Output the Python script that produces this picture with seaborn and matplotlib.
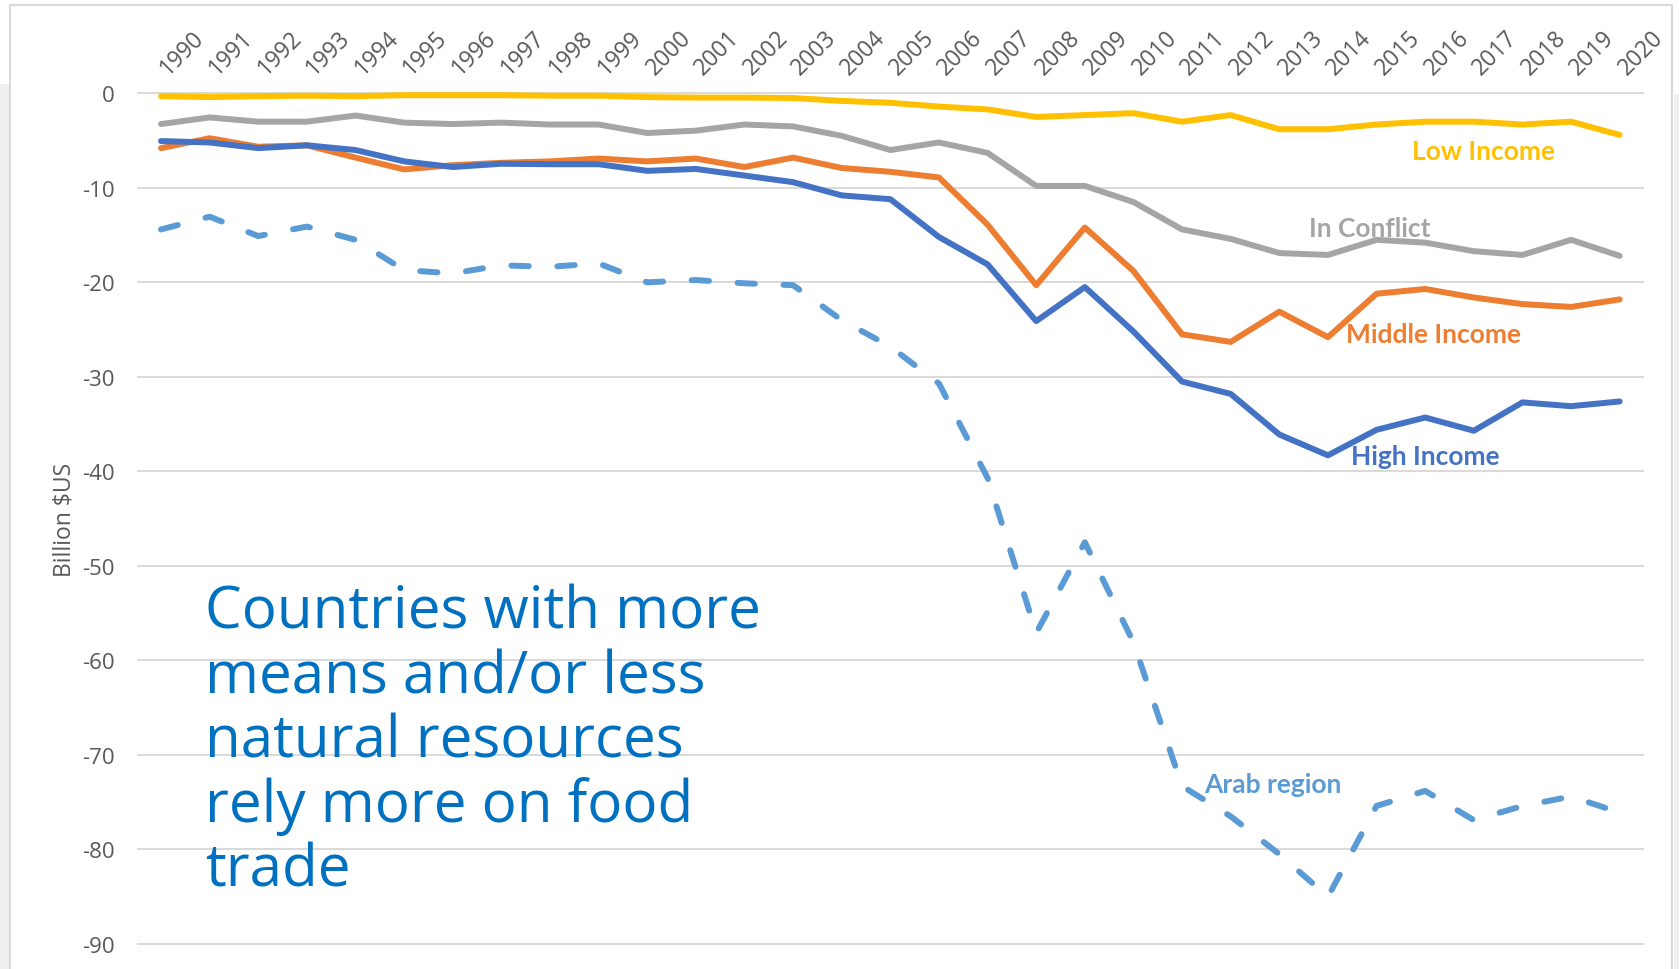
import matplotlib
matplotlib.use("Agg")
import matplotlib.pyplot as plt
import matplotlib.transforms as mtransforms
from matplotlib.patches import Rectangle
import pandas as pd
import seaborn as sns

# Net food trade balance, billion $US
years = list(range(1990, 2021))
low_income = [-0.3, -0.4, -0.3, -0.25, -0.3, -0.2, -0.2, -0.2, -0.25, -0.25,
              -0.4, -0.45, -0.45, -0.5, -0.8, -1.0, -1.4, -1.7, -2.5, -2.3,
              -2.1, -3.0, -2.3, -3.8, -3.8, -3.3, -3.0, -3.0, -3.3, -3.0, -4.4]
in_conflict = [-3.25, -2.55, -3.0, -3.0, -2.35, -3.1, -3.25, -3.1, -3.3, -3.3,
               -4.2, -3.95, -3.3, -3.5, -4.5, -6.0, -5.2, -6.3, -9.8, -9.8,
               -11.5, -14.4, -15.4, -16.9, -17.1, -15.5, -15.8, -16.7, -17.1, -15.5, -17.2]
middle_income = [-5.8, -4.75, -5.65, -5.5, -6.8, -8.05, -7.6, -7.35, -7.2, -6.9,
                 -7.2, -6.9, -7.8, -6.8, -7.9, -8.3, -8.9, -13.9, -20.3, -14.2,
                 -18.8, -25.5, -26.3, -23.1, -25.8, -21.2, -20.7, -21.6, -22.3, -22.6, -21.8]
high_income = [-5.05, -5.2, -5.8, -5.5, -6.0, -7.2, -7.8, -7.45, -7.5, -7.5,
               -8.2, -8.0, -8.7, -9.4, -10.8, -11.2, -15.2, -18.1, -24.1, -20.5,
               -25.2, -30.5, -31.8, -36.1, -38.3, -35.6, -34.3, -35.7, -32.7, -33.1, -32.6]
arab_region = [-14.4, -13.05, -15.1, -14.1, -15.5, -18.7, -19.05, -18.2, -18.35, -18.0,
               -20.0, -19.75, -20.1, -20.3, -24.0, -26.8, -30.7, -40.7, -57.1, -47.5,
               -58.1, -73.3, -76.5, -80.5, -85.0, -75.4, -73.8, -76.9, -75.4, -74.4, -76.1]

series_names = ["Low Income", "In Conflict", "Middle Income", "High Income", "Arab region"]
series_colors = ["#FFC000", "#A5A5A5", "#ED7D31", "#4472C4", "#5B9BD5"]
y_ticks = [0, -10, -20, -30, -40, -50, -60, -70, -80, -90]
headline = "Countries with more\nmeans and/or less\nnatural resources\nrely more on food\ntrade"

df = pd.DataFrame({"Year": years,
                   "Low Income": low_income,
                   "In Conflict": in_conflict,
                   "Middle Income": middle_income,
                   "High Income": high_income,
                   "Arab region": arab_region})

sns.set_style("white")
plt.rcParams["font.family"] = ["Open Sans", "DejaVu Sans"]

W, H = 1679, 970
fig = plt.figure(figsize=(W / 100, H / 100), dpi=100)
fig.patch.set_facecolor("white")

# screenshot frame: grey strips at the sides and a thin border
fig.patches.append(Rectangle((0, 0), 10 / W, (H - 85) / H, transform=fig.transFigure,
                             facecolor="#efefef", edgecolor="none", zorder=0))
fig.patches.append(Rectangle((1674 / W, 0), 5 / W, (H - 95) / H, transform=fig.transFigure,
                             facecolor="#efefef", edgecolor="none", zorder=0))
fig.patches.append(Rectangle((10 / W, -0.05), (1672 - 10) / W, 1.05 - 6 / H,
                             transform=fig.transFigure, facecolor="none",
                             edgecolor="#d9d9d9", linewidth=1.5, zorder=0))

ax = fig.add_axes([136.7 / W, 1 - 949.7 / H, (1644 - 136.7) / W, (949.7 - 89.6) / H])
ax.set_facecolor("none")

for name, color in zip(series_names, series_colors):
    ls = (0, (2.9, 4.8)) if name == "Arab region" else "-"
    sns.lineplot(data=df, x="Year", y=name, color=color, linewidth=4.3, ax=ax,
                 linestyle=ls, solid_capstyle="round", dash_capstyle="round",
                 solid_joinstyle="round", clip_on=False, zorder=3)

ax.set_xlim(1989.5, 2020.5)
ax.set_ylim(-90.5, 0.5)
for s in ax.spines.values():
    s.set_visible(False)
ax.yaxis.grid(True, color="#d9d9d9", linewidth=1.4)
ax.xaxis.grid(False)

ax.set_xticks(years)
ax.set_xticklabels([str(y) for y in years])
ax.xaxis.tick_top()
ax.xaxis.set_label_position("top")
ax.set_xlabel("")
ax.tick_params(axis="x", length=0, pad=12.5, labelsize=16.5, labelcolor="#595959")
shift = mtransforms.ScaledTranslation(3 / 100, 0, fig.dpi_scale_trans)
for lab in ax.get_xticklabels():
    lab.set_rotation(45)
    lab.set_ha("left")
    lab.set_va("center")
    lab.set_rotation_mode("anchor")
    lab.set_transform(lab.get_transform() + shift)

ax.set_yticks(y_ticks)
ax.set_yticklabels([str(v) for v in y_ticks])
ax.tick_params(axis="y", length=0, pad=15.6, labelsize=16, labelcolor="#595959")
ax.set_ylabel("Billion $US", fontsize=16.5, color="#595959")
ax.yaxis.set_label_coords(-0.0400, 0.5)

# series labels
label_font = ["Lato", "DejaVu Sans"]
ax.text(2015.73, -6.98, "Low Income", color="#FFC000", fontsize=19, fontweight="bold",
        family=label_font, va="baseline")
ax.text(2013.60, -15.13, "In Conflict", color="#A5A5A5", fontsize=19, fontweight="bold",
        family=label_font, va="baseline")
ax.text(2014.37, -26.27, "Middle Income", color="#ED7D31", fontsize=19, fontweight="bold",
        family=label_font, va="baseline")
ax.text(2014.47, -39.2, "High Income", color="#4472C4", fontsize=19, fontweight="bold",
        family=label_font, va="baseline")
ax.text(2011.45, -73.9, "Arab region", color="#5B9BD5", fontsize=19, fontweight="bold",
        family=label_font, va="baseline")

fig.text(205 / W, 1 - 584.5 / H, headline, ha="left", va="top", fontsize=42,
         color="#0070C0", linespacing=1.13)

fig.savefig("out.png", dpi=100)
